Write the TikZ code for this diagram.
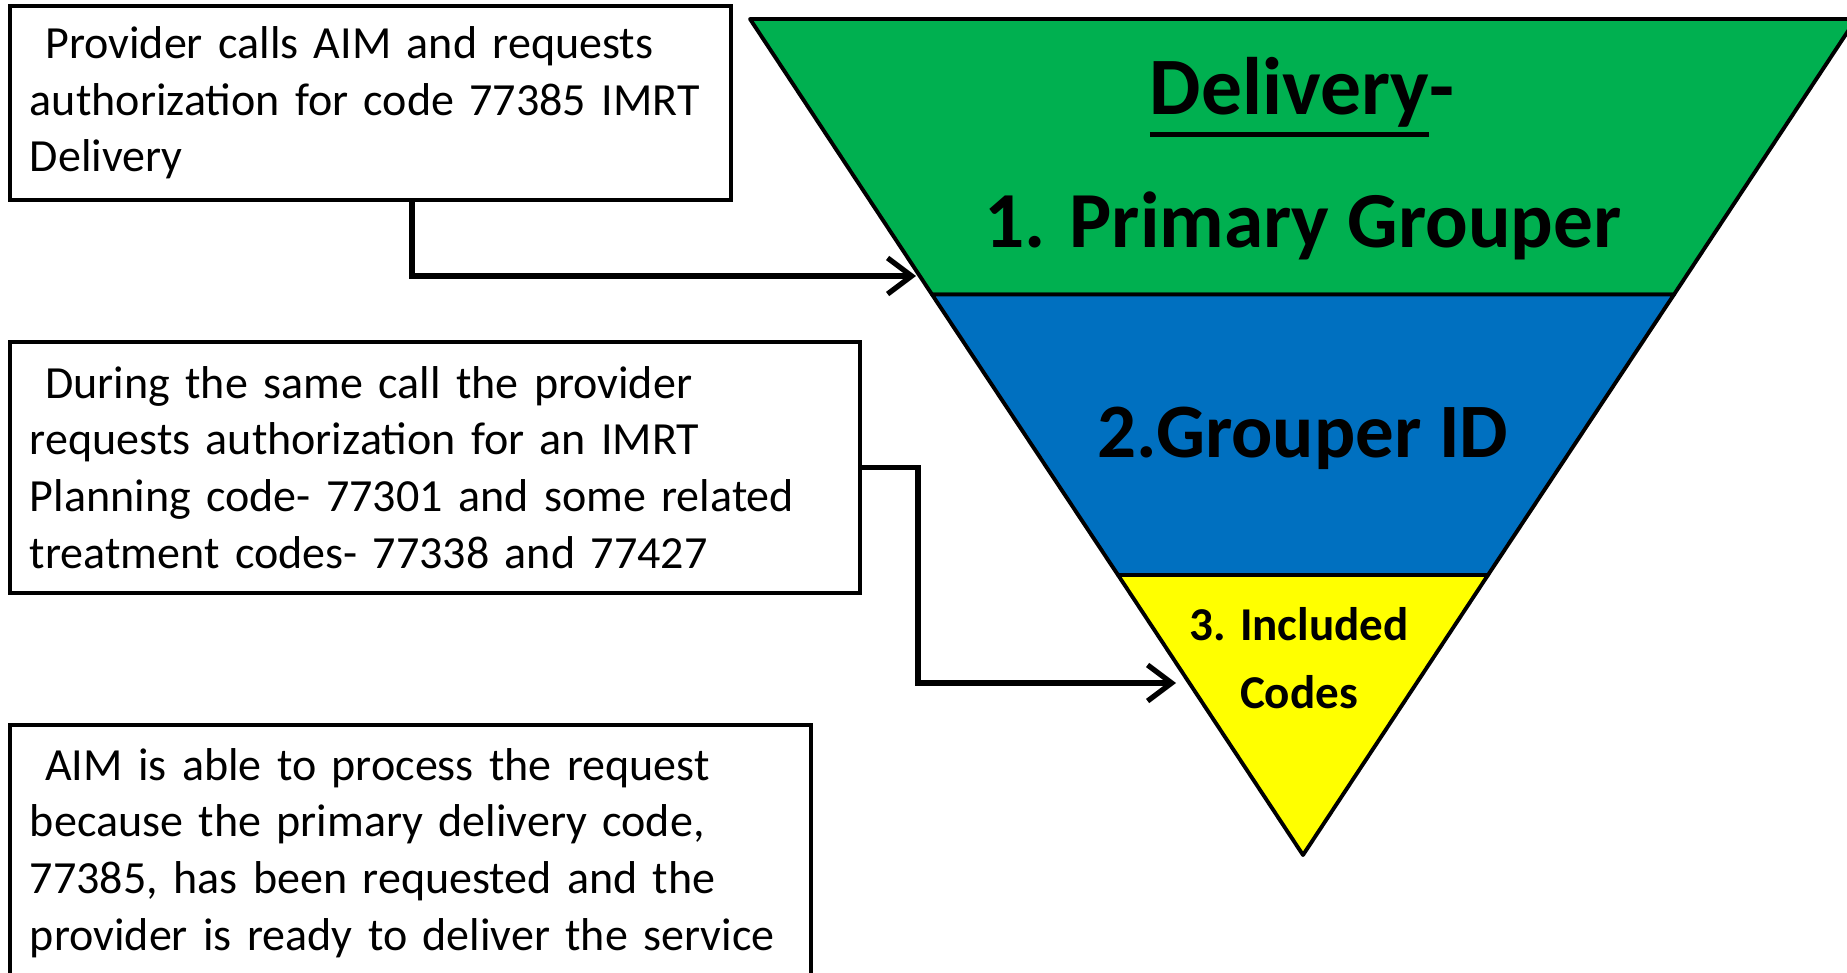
\documentclass[tikz,border=0pt]{standalone}
\usepackage{fontspec}
\setmainfont{Carlito}
\usetikzlibrary{arrows.meta}
\definecolor{tiergreen}{HTML}{00B050}
\definecolor{tierblue}{HTML}{0070C0}
\definecolor{tieryellow}{HTML}{FFFF00}
\newcommand\ulsolid[1]{\setbox0\hbox{#1}\rlap{\rule[-0.28em]{\wd0}{0.065em}}\box0}

\begin{document}
\begin{tikzpicture}[notebox/.style={draw=black, line width=1.1pt, fill=white, anchor=north west, align=left, inner xsep=0.2cm, inner ysep=0pt, font={\fontsize{13.1}{16.1}\selectfont}},
tier/.style={draw=black, line width=1.1pt, line join=round},
tiertext/.style={font=\fontsize{22.6}{27}\selectfont\bfseries},
link/.style={line width=1.5pt, -{Straight Barb[length=2.4mm, width=3.6mm]}}]
\useasboundingbox (0,0) rectangle (18.47,-9.73);
% funnel
\coordinate (top l) at (7.50,-0.19);
\coordinate (top r) at (18.56,-0.19);
\coordinate (mid l) at (9.32,-2.945);
\coordinate (mid r) at (16.74,-2.945);
\coordinate (low l) at (11.18,-5.75);
\coordinate (low r) at (14.88,-5.75);
\coordinate (tip) at (13.03,-8.55);
\draw[tier, fill=tiergreen] (top l) -- (top r) -- (mid r) -- (mid l) -- cycle;
\draw[tier, fill=tierblue] (mid l) -- (mid r) -- (low r) -- (low l) -- cycle;
\draw[tier, fill=tieryellow] (low l) -- (low r) -- (tip) -- cycle;
\node[tiertext, font=\fontsize{23.2}{27}\selectfont\bfseries] (deliv) at (13.02,-0.97) {\ulsolid{Delivery}-};
\node[tiertext] (prim) at (13.03,-2.26) {1. Primary Grouper};
\node[tiertext, font=\fontsize{21.9}{27}\selectfont\bfseries] (grpid) at (13.03,-4.38) {2.Grouper ID};
\node[font=\fontsize{13.4}{19.4}\selectfont\bfseries, align=center] (incl) at (12.99,-6.58) {3. Included\\Codes};
% request boxes
\node[notebox, text width=6.81cm, minimum height=1.94cm] (req1) at (0.08,-0.04) {\ Provider calls AIM and requests\\authorization for code 77385 IMRT\\Delivery};
\node[notebox, text width=8.10cm, minimum height=2.51cm] (req2) at (0.08,-3.40) {\ During the same call the provider\\requests authorization for an IMRT\\Planning code- 77301 and some related\\treatment codes- 77338 and 77427};
\node[notebox, text width=7.61cm, minimum height=2.56cm] (req3) at (0.08,-7.23) {\ AIM is able to process the request\\because the primary delivery code,\\77385, has been requested and the\\provider is ready to deliver the service};
% arrows
\coordinate (in1) at (9.16,-2.76);
\coordinate (in2) at (11.76,-6.83);
\draw[link] ([xshift=0.415cm]req1.south) |- (in1);
\draw[link] (req2.east) -- ++(0.56,0) |- (in2);
\end{tikzpicture}
\end{document}
